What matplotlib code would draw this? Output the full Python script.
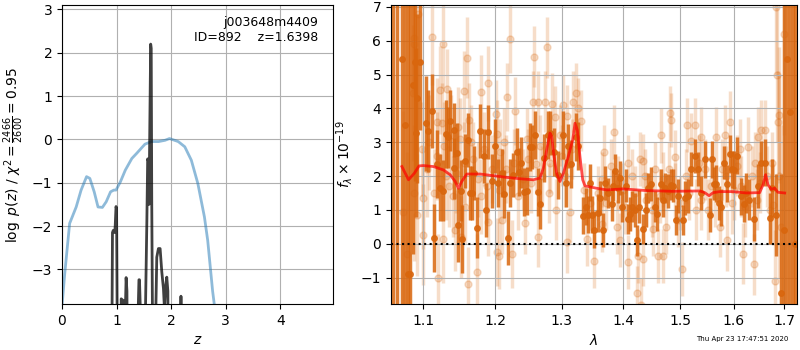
import numpy as np
import matplotlib
matplotlib.use('Agg')
import matplotlib.pyplot as plt
from matplotlib.ticker import FixedLocator, FixedFormatter, NullLocator

# ---------------- Left panel data ----------------
z_chi = [0.0, 0.05, 0.14, 0.26, 0.35, 0.45, 0.51, 0.59, 0.66, 0.74, 0.81, 0.89, 0.95, 0.99,
         1.07, 1.16, 1.28, 1.37, 1.52, 1.64, 1.77, 1.89, 1.97, 2.13, 2.25, 2.37, 2.49, 2.61,
         2.67, 2.76, 2.80]
chi_vals = [-3.85, -3.1, -1.94, -1.56, -1.17, -0.86, -0.90, -1.21, -1.56, -1.57, -1.44, -1.21,
            -1.17, -1.17, -0.98, -0.71, -0.44, -0.32, -0.11, -0.05, -0.05, -0.02, 0.02, -0.05,
            -0.17, -0.48, -1.02, -1.79, -2.33, -3.5, -3.9]

z_pz = [0.90, 0.915, 0.925, 0.94, 0.965, 0.975, 0.99, 1.00, 1.01, 1.03, 1.07, 1.085, 1.10,
        1.125, 1.14, 1.16, 1.175, 1.19, 1.21, 1.37, 1.395, 1.41, 1.42, 1.435, 1.46, 1.50,
        1.53, 1.555, 1.57, 1.585, 1.595, 1.61, 1.625, 1.635, 1.645, 1.66, 1.69, 1.72, 1.737,
        1.767, 1.798, 1.829, 1.859, 1.877, 1.90, 1.92, 1.94, 1.96, 2.15, 2.17, 2.18, 2.19, 2.21]
logp = [-9, -4.5, -2.15, -2.1, -2.15, -2.0, -1.55, -1.6, -3.9, -9, -9, -3.68, -3.7, -3.72,
        -4.5, -4.0, -3.19, -3.5, -9, -9, -4.0, -3.24, -3.24, -3.9, -9, -9, -3.9, -1.9, -0.45,
        -0.5, -1.5, 0.4, 2.2, 2.1, -1.5, -4.5, -9, -3.9, -2.72, -2.52, -2.52, -3.06, -3.44,
        -3.9, -3.4, -3.18, -3.5, -9, -9, -3.9, -3.62, -3.9, -9]

# ---------------- Right panel data ----------------
wave_dark = [1.0605, 1.0656, 1.0720, 1.0760, 1.0800, 1.0820, 1.0859, 1.0894, 1.0905, 1.0915,
             1.0959, 1.1034, 1.1068, 1.1115, 1.1147, 1.1182, 1.1227, 1.1263, 1.1304, 1.1331,
             1.1367, 1.1409, 1.1418, 1.1455, 1.1477, 1.1514, 1.1530, 1.1562, 1.1608, 1.1640,
             1.1668, 1.1696, 1.1743, 1.1781, 1.1830, 1.1865, 1.1900, 1.1948, 1.1990, 1.2042,
             1.2100, 1.2128, 1.2187, 1.2215, 1.2264, 1.2313, 1.2348, 1.2378, 1.2428, 1.2463,
             1.2513, 1.2548, 1.2588, 1.2639, 1.2664, 1.2730, 1.2783, 1.2818, 1.2885, 1.2947,
             1.3026, 1.3064, 1.3105, 1.3147, 1.3222, 1.3264, 1.3344, 1.3383, 1.3415, 1.3451,
             1.3479, 1.3521, 1.3576,
             1.3614, 1.3669, 1.3697, 1.3752, 1.3808, 1.3835, 1.3863, 1.3909, 1.3946, 1.3974,
             1.4043, 1.4087, 1.4116, 1.4155, 1.4201, 1.4231, 1.4269, 1.4343, 1.4385, 1.4431,
             1.4477, 1.4547, 1.4577, 1.4664, 1.4693, 1.4735, 1.4782, 1.4831, 1.4872, 1.4915,
             1.4961, 1.5053, 1.5084, 1.5133, 1.5193, 1.5266, 1.5327,
             1.5388, 1.5462, 1.5544, 1.5587, 1.5625, 1.5670, 1.5713, 1.5764, 1.5814, 1.5879,
             1.5923, 1.5968, 1.6007, 1.6072, 1.6136, 1.6200, 1.6247, 1.6292, 1.6396, 1.6475,
             1.6543, 1.6609, 1.6709, 1.6756, 1.6845, 1.6946, 1.7001, 1.7062, 1.7131, 1.7180,
             1.7235]
flux_dark = [9.0, -4.0, 5.45, 3.5, -0.9, -0.89, 4.7, 5.36, 3.28, 4.3,
             5.36, 3.56, 3.33, 3.92, 0.18, 2.36, 1.66, 1.56, 3.24, 3.15,
             3.63, 2.23, 3.36, 2.68, 0.55, 1.56, 0.15, 2.44, 3.07, 1.5,
             1.5, 2.09, 0.48, 3.33, 2.6, 1.0, 3.3, 1.86, 2.89, 1.8,
             2.09, 1.47, 0.18, 1.8, 2.03, 2.71, 2.12, 2.39, 1.53, 1.56,
             2.86, 2.86, 3.21, 1.53, 1.18, 2.53, 3.21, 3.27, 2.71, 2.03,
             3.21, 1.8, 2.89, 2.36, 3.15, 2.89, 0.83, 1.09, 0.86, 1.8,
             0.86, 0.41, 0.91,
             1.35, 0.41, 1.8, 1.5, 1.18, 1.72, 2.15, 1.65, 1.95, 1.1,
             1.72, 0.73, 0.88, 1.1, 1.0, 0.1, 1.1, 0.44, 1.0, 1.65,
             1.77, 1.1, 0.88, 1.77, 1.3, 1.65, 1.55, 1.75, 1.72, 0.7,
             1.4, 0.7, 1.35, 1.4, 2.22, 2.6, 2.2,
             1.5, 2.5, 0.85, 2.5, 1.78, 1.78, 1.2, 1.08, 2.4, 1.78,
             2.65, 2.2, 2.18, 2.6, 1.4, 1.18, 1.5, 1.3, 0.72, 1.72,
             2.4, 2.4, 0.75, 1.65, 0.85, -1.45, 0.4, 5.45, 3.9, -2.5,
             0.0]
err_dark = [15, 12, 12, 10, 10, 8, 5, 3.5, 2.5, 2.5,
            2.0, 1.4, 1.2, 1.1, 1.0, 1.0, 1.0, 0.9, 1.0, 0.9,
            0.9, 0.9, 0.8, 0.9, 1.1, 0.9, 1.0, 0.8, 0.8, 0.8,
            0.8, 0.8, 0.9, 0.8, 0.8, 0.8, 0.8, 0.8, 0.8, 0.7,
            0.7, 0.7, 0.8, 0.7, 0.65, 0.7, 0.7, 0.75, 0.7, 0.7,
            0.7, 0.65, 0.7, 0.7, 0.75, 0.7, 0.7, 0.65, 0.7, 0.7,
            0.7, 0.7, 0.65, 0.7, 0.7, 0.7, 0.55, 0.55, 0.55, 0.55,
            0.55, 0.55, 0.55,
            0.5, 0.5, 0.5, 0.45, 0.5, 0.45, 0.5, 0.45, 0.5, 0.45,
            0.5, 0.45, 0.5, 0.45, 0.5, 0.45, 0.5, 0.45, 0.5, 0.45,
            0.5, 0.45, 0.5, 0.45, 0.5, 0.45, 0.5, 0.45, 0.5, 0.45,
            0.5, 0.45, 0.5, 0.5, 0.5, 0.5, 0.5,
            0.5, 0.55, 0.5, 0.55, 0.5, 0.55, 0.5, 0.55, 0.5, 0.55,
            0.55, 0.55, 0.55, 0.55, 0.55, 0.55, 0.6, 0.6, 0.65, 0.65,
            0.65, 0.7, 0.75, 0.85, 1.2, 3.5, 12, 12, 12, 15,
            15]

wave_light = [1.0925, 1.0873, 1.0881, 1.1115, 1.1263, 1.1602, 1.1227, 1.1326, 1.1558, 1.1790,
              1.1900, 1.2008, 1.1621, 1.1182, 1.1250, 1.1654, 1.1477, 1.1376, 1.0860, 1.0873,
              1.1000, 1.1138, 1.1345, 1.1400, 1.1571, 1.1790, 1.1900, 1.0915, 1.0992, 1.1272,
              1.1423, 1.1510, 1.2018, 1.1204, 1.1743, 1.1608, 1.0792, 1.0740, 1.105, 1.13,
              1.155, 1.175, 1.195,
              1.2215, 1.2167, 1.2288, 1.2553, 1.2576, 1.2627, 1.2741, 1.2767, 1.2853, 1.2895,
              1.3026, 1.3079, 1.3183, 1.3226, 1.3264, 1.3306, 1.2031, 1.2069, 1.2489, 1.2611,
              1.2795, 1.2912, 1.3131, 1.2055, 1.2240, 1.2627, 1.3079, 1.3399, 1.3521, 1.2438,
              1.2094, 1.215, 1.24, 1.27, 1.30,
              1.3852, 1.3686, 1.4087, 1.4286, 1.4343, 1.4664, 1.4813, 1.4831, 1.4905, 1.5115,
              1.5266, 1.5205, 1.3641, 1.3891, 1.3946, 1.4076, 1.4259, 1.4343, 1.4231, 1.4314,
              1.4605, 1.4693, 1.4518, 1.4752, 1.4951, 1.5035, 1.365, 1.38, 1.40, 1.415,
              1.44, 1.455, 1.47, 1.49, 1.51,
              1.6831, 1.6865, 1.6892, 1.6878, 1.5923, 1.5825, 1.5670, 1.5376, 1.6543, 1.6609,
              1.6475, 1.6279, 1.6116, 1.5296, 1.5732, 1.5879, 1.6181, 1.6396, 1.6811, 1.7001,
              1.5388, 1.5574, 1.6149, 1.6776, 1.545, 1.565, 1.585, 1.60, 1.635, 1.645,
              1.665, 1.675,
              1.098, 1.108, 1.118, 1.128, 1.145, 1.150, 1.168, 1.183, 1.188, 1.205,
              1.212, 1.228, 1.233, 1.247, 1.253, 1.267, 1.282, 1.297, 1.305, 1.316,
              1.335, 1.345, 1.358, 1.372, 1.392, 1.403, 1.420, 1.437, 1.449, 1.463,
              1.479, 1.499, 1.516, 1.534, 1.551, 1.577, 1.596, 1.606, 1.622, 1.641,
              1.652, 1.671, 1.690, 1.694]
flux_light = [6.78, 6.08, 5.9, 6.1, 5.9, 5.5, 4.54, 4.56, 4.5, 4.48,
              4.74, 3.83, 3.66, 3.6, 3.56, 3.0, 3.44, 3.2, 4.45, 1.5,
              1.35, 1.5, 1.7, 1.4, 1.1, 1.4, 0.65, 0.86, 0.27, 0.13,
              0.4, 0.2, -0.24, -1.0, -0.82, -1.2, -0.3, 0.93, 2.2, 2.0,
              2.4, 1.9, 2.2,
              6.05, 4.34, 3.92, 4.19, 5.52, 4.19, 4.19, 5.81, 4.13, 3.75,
              4.1, 3.78, 4.2, 4.45, 4.0, 3.63, 3.25, 2.7, 2.5, 2.36,
              1.5, 1.0, 0.95, -0.35, -0.3, 0.2, 0.05, 0.15, -0.5, 0.6,
              0.7, 2.2, 1.9, 2.0, 2.6,
              3.3, 2.7, 2.4, 2.5, 2.45, 3.2, 3.85, 3.65, 2.55, 3.5,
              3.5, 3.05, 0.57, 0.5, 0.1, -0.55, -0.35, -0.45, -1.45, -1.8,
              -0.35, -0.35, 0.45, 0.5, 0.7, -0.75, 1.9, 2.3, 1.6, 2.0,
              1.3, 2.2, 1.9, 1.6, 2.0,
              7.0, 5.0, 3.8, 3.6, 3.6, 3.2, 3.15, 3.15, 3.35, 3.35,
              3.15, 2.85, 2.8, 1.0, 0.5, 0.1, -0.3, -0.6, -1.1, 6.2,
              1.3, 1.7, 1.7, 1.15, 2.2, 1.4, 2.0, 1.6, 2.0, 1.3,
              2.0, 2.4,
              2.8, 3.0, 2.6, 2.9, 2.1, 3.1, 2.5, 2.8, 1.7, 1.6,
              3.0, 2.4, 1.4, 3.1, 1.8, 2.9, 2.4, 3.2, 2.0, 2.8,
              1.6, 1.2, 1.5, 1.2, 1.8, 1.1, 1.5, 2.0, 1.0, 1.4,
              2.2, 1.2, 1.5, 2.4, 1.0, 2.2, 1.2, 2.3, 1.1, 2.4,
              1.8, 1.0, 2.0, 0.5]
err_light = [1.5, 1.5, 1.5, 1.4, 1.3, 1.2, 1.3, 1.2, 1.2, 1.1,
             1.1, 1.0, 1.1, 1.3, 1.2, 1.1, 1.2, 1.2, 2.0, 2.0,
             1.5, 1.3, 1.2, 1.2, 1.1, 1.1, 1.0, 1.8, 1.5, 1.3,
             1.2, 1.2, 1.0, 1.3, 1.1, 1.1, 3.0, 3.0, 1.4, 1.3,
             1.2, 1.1, 1.0,
             1.0, 1.0, 1.0, 0.9, 0.9, 0.9, 0.9, 0.9, 0.9, 0.9,
             0.9, 0.9, 0.9, 0.9, 0.9, 0.9, 1.0, 1.0, 0.9, 0.9,
             0.9, 0.9, 0.9, 1.0, 1.0, 0.9, 0.9, 0.8, 0.8, 0.9,
             1.0, 1.0, 0.9, 0.9, 0.9,
             0.8, 0.8, 0.8, 0.8, 0.8, 0.8, 0.8, 0.8, 0.8, 0.8,
             0.8, 0.8, 0.8, 0.8, 0.8, 0.8, 0.8, 0.8, 0.8, 0.8,
             0.8, 0.8, 0.8, 0.8, 0.8, 0.8, 0.8, 0.8, 0.8, 0.8,
             0.8, 0.8, 0.8, 0.8, 0.8,
             2.0, 2.0, 2.0, 1.5, 0.9, 0.9, 0.9, 0.9, 0.9, 0.9,
             0.9, 0.9, 0.9, 0.9, 0.9, 0.9, 0.9, 0.9, 1.5, 3.0,
             0.9, 0.9, 0.9, 1.2, 0.9, 0.9, 0.9, 0.9, 0.9, 0.9,
             0.9, 0.9,
             1.4, 1.4, 1.3, 1.3, 1.2, 1.2, 1.1, 1.1, 1.1, 1.0,
             1.0, 1.0, 1.0, 0.9, 0.9, 0.9, 0.9, 0.9, 0.9, 0.9,
             0.8, 0.8, 0.8, 0.8, 0.8, 0.8, 0.8, 0.8, 0.8, 0.8,
             0.8, 0.8, 0.8, 0.8, 0.9, 0.9, 0.9, 0.9, 0.9, 0.9,
             0.9, 1.0, 3.0, 3.0]

wave_model = [1.0720, 1.0806, 1.0881, 1.0944, 1.1000, 1.1138, 1.1272, 1.1363, 1.1432, 1.1477,
              1.1523, 1.1593, 1.1781, 1.1973, 1.2167, 1.2363, 1.2563, 1.2664, 1.2715, 1.2767,
              1.2818, 1.2844, 1.2880, 1.2921, 1.2973, 1.3026, 1.3105, 1.3174, 1.3211, 1.3248,
              1.3290, 1.3334, 1.3371, 1.3559, 1.3725, 1.4003, 1.4402, 1.4872, 1.5357, 1.5450,
              1.5531, 1.5607, 1.5732, 1.5987, 1.6247, 1.6509, 1.6576, 1.6629, 1.6676, 1.6744,
              1.6811, 1.6878, 1.7015]
flux_model = [2.28, 1.89, 2.08, 2.30, 2.31, 2.28, 2.18, 2.04, 1.84, 1.64,
              1.84, 2.06, 2.06, 2.01, 1.96, 1.92, 1.89, 1.94, 2.23, 2.77,
              3.27, 3.17, 2.58, 2.08, 1.84, 2.08, 2.58, 3.07, 3.56, 3.36,
              2.58, 1.89, 1.71, 1.64, 1.59, 1.62, 1.57, 1.55, 1.56, 1.51,
              1.42, 1.51, 1.54, 1.54, 1.50, 1.51, 1.74, 2.04, 1.74, 1.61,
              1.64, 1.52, 1.50]

title_lines = ['j003648m4409', 'ID=892    z=1.6398']
stamp = 'Thu Apr 23 17:47:51 2020'
lam_ticks = [1.1, 1.2, 1.3, 1.4, 1.5, 1.6, 1.7]

# ---------------- Figure ----------------
fig = plt.figure(figsize=(8, 3.5), dpi=100)
ax1 = fig.add_axes([0.0775, 0.1314, 0.339, 0.854])
ax2 = fig.add_axes([0.48875, 0.1314, 0.5075, 0.854])

ax1.plot(z_chi, chi_vals, color='tab:blue', alpha=0.5, lw=2)
ax1.plot(z_pz, logp, color='k', alpha=0.75, lw=2)
ax1.set_xlim(0, 4.97)
ax1.set_ylim(-3.8, 3.1)
ax1.set_xticks([0, 1, 2, 3, 4])
ax1.set_yticks([-3, -2, -1, 0, 1, 2, 3])
ax1.grid(True)
ax1.set_xlabel(r'$z$')
ax1.set_ylabel(r'$\log\ p(z)$' + ' / ' + r'$\chi^2=\frac{2466}{2600}=0.95$')
ax1.text(0.945, 0.965, '\n'.join(title_lines), transform=ax1.transAxes,
         ha='right', va='top', fontsize=9)

col = (0.85, 0.40, 0.05)
ax2.errorbar(wave_light, flux_light, yerr=err_light, fmt='o', color=col, alpha=0.22,
             markersize=5, elinewidth=2.5, capsize=0, zorder=1)
ax2.errorbar(wave_dark, flux_dark, yerr=err_dark, fmt='o', color=col, alpha=0.85,
             markersize=4, elinewidth=2.5, capsize=0, zorder=2)
ax2.plot(wave_model, flux_model, color='red', alpha=0.7, lw=2, zorder=3)
ax2.axhline(0, color='k', ls=':', lw=1.5, zorder=4)
ax2.set_xscale('log')
ax2.set_xlim(1.058, 1.727)
ax2.set_ylim(-1.78, 7.05)
ax2.xaxis.set_major_locator(FixedLocator(lam_ticks))
ax2.xaxis.set_major_formatter(FixedFormatter([f'{v:.1f}' for v in lam_ticks]))
ax2.xaxis.set_minor_locator(NullLocator())
ax2.set_yticks([-1, 0, 1, 2, 3, 4, 5, 6, 7])
ax2.grid(True)
ax2.set_xlabel(r'$\lambda$')
ax2.set_ylabel(r'$f_\lambda \times 10^{-19}$')

fig.text(0.986, 0.031, stamp, ha='right', va='center', fontsize=5)

fig.savefig('out.png', dpi=100)
